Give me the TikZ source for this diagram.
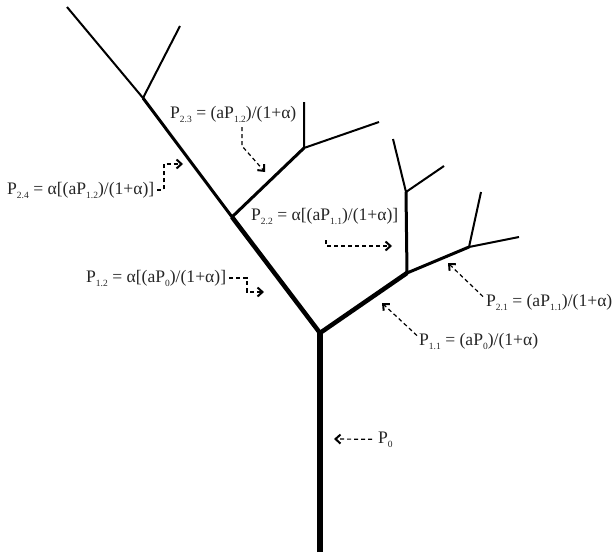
\documentclass[tikz,border=0pt]{standalone}
\usepackage{fontspec}
\setmainfont{Liberation Serif}
\usetikzlibrary{arrows.meta}
\newcommand\lsub[1]{\raisebox{-0.5ex}{\fontsize{9.5}{9.5}\selectfont #1}}
\begin{document}
\begin{tikzpicture}[x=1pt,y=-1pt,
  lvl0/.style={line width=6pt},
  lvl1/.style={line width=4.5pt},
  lvl2/.style={line width=3pt},
  lvl3/.style={line width=2pt},
  lab/.style={anchor=base west, inner sep=0pt, text=black!85, font=\fontsize{17.6}{20}\selectfont},
  conn/.style={dash pattern=on 4pt off 3pt, line width=1.2pt,
    -{Straight Barb[length=5pt,width=9pt,line width=2pt]}}]
\useasboundingbox (0,0) rectangle (613,554);
% tree points
\coordinate (r) at (320,333);
\coordinate (b) at (320,552);
\coordinate (L1) at (232,217);
\coordinate (L2) at (143,98);
\coordinate (L3) at (67,7);
\coordinate (L2b) at (180,26);
\coordinate (M1) at (304,148);
\coordinate (M1a) at (304,102);
\coordinate (M1b) at (379,122);
\coordinate (R1) at (407,273);
\coordinate (R2) at (406,192);
\coordinate (R2a) at (393,139);
\coordinate (R2b) at (444,166);
\coordinate (R3) at (469,247);
\coordinate (R3a) at (481,192);
\coordinate (R3b) at (519,237);
% tree
\draw[lvl0] (b) -- (r);
\draw[lvl1,line join=round] (L1) -- (r) -- (R1);
\draw[lvl2] (L2) -- (L1) -- (M1);
\draw[lvl2] (R2) -- (R1) -- (R3);
\draw[lvl3] (L3) -- (L2) -- (L2b);
\draw[lvl3] (M1a) -- (M1) -- (M1b);
\draw[lvl3] (R2a) -- (R2) -- (R2b);
\draw[lvl3] (R3a) -- (R3) -- (R3b);
% labels
\node[lab] (l24) at (7,194) {P\lsub{2.4} = α[(aP\lsub{1.2})/(1+α)]};
\node[lab] (l23) at (170,118) {P\lsub{2.3} = (aP\lsub{1.2})/(1+α)};
\node[lab] (l22) at (251,220) {P\lsub{2.2} = α[(aP\lsub{1.1})/(1+α)]};
\node[lab] (l12) at (86,282) {P\lsub{1.2} = α[(aP\lsub{0})/(1+α)]};
\node[lab] (l21) at (486,306) {P\lsub{2.1} = (aP\lsub{1.1})/(1+α)};
\node[lab] (l11) at (419,345) {P\lsub{1.1} = (aP\lsub{0})/(1+α)};
\node[lab] (l0) at (378,443) {P\lsub{0}};
% connector points
\coordinate (c24) at (164,164);
\coordinate (t24) at (183,164);
\coordinate (s23) at (242,127);
\coordinate (c23) at (242,146);
\coordinate (t23) at (265,172);
\coordinate (s22) at (326,240);
\coordinate (t22) at (392,246);
\coordinate (c12) at (247,292);
\coordinate (t12) at (264,292);
\coordinate (t21) at (448,263);
\coordinate (t11) at (382,303);
\coordinate (t0) at (334,439);
% connectors
\draw[conn] ([xshift=3pt]l24.east) -| (c24) -- (t24);
\draw[conn] (s23) -- (c23) -- (t23);
\draw[conn] (s22) |- (t22);
\draw[conn] ([xshift=3pt]l12.east) -| (c12) -- (t12);
\draw[conn] ([shift={(-3pt,-3pt)}]l21.north west) -- (t21);
\draw[conn] ([shift={(-2pt,-3pt)}]l11.north west) -- (t11);
\draw[conn] ([xshift=-6pt]l0.west) -- (t0);
\end{tikzpicture}
\end{document}
